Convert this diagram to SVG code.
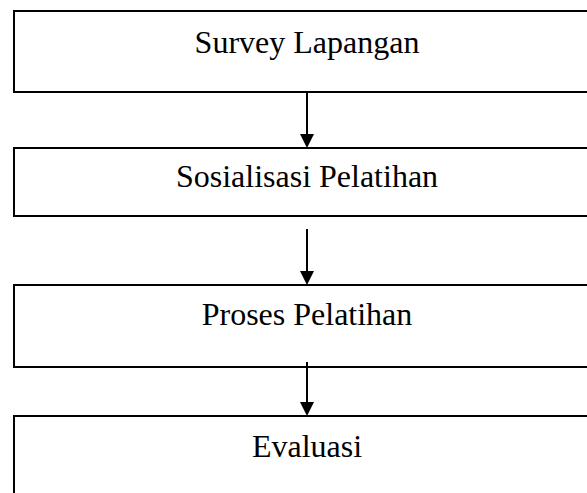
<svg xmlns="http://www.w3.org/2000/svg" width="587" height="493" viewBox="0 0 587 493">
<style>
.box{fill:#fff;stroke:#000;stroke-width:2}
.lbl{font-family:"Liberation Serif","Times New Roman",serif;font-size:32px;fill:#000;text-anchor:middle}
.con{stroke:#000;stroke-width:2;fill:none}
.head{fill:#000}
</style>
<rect width="587" height="493" fill="#fff"/>
<g id="node-survey">
<rect class="box" x="14" y="11" width="586" height="81"/>
<text class="lbl" x="307" y="53">Survey Lapangan</text>
</g>
<g id="node-sosialisasi">
<rect class="box" x="14" y="148" width="586" height="68"/>
<text class="lbl" x="307" y="187">Sosialisasi Pelatihan</text>
</g>
<g id="node-proses">
<rect class="box" x="14" y="285" width="586" height="82"/>
<text class="lbl" x="307" y="325">Proses Pelatihan</text>
</g>
<g id="node-evaluasi">
<rect class="box" x="14" y="416" width="586" height="90"/>
<text class="lbl" x="307" y="457">Evaluasi</text>
</g>
<g id="connectors">
<line class="con" x1="307" y1="93" x2="307" y2="136"/>
<polygon class="head" points="300,134 314,134 307,148"/>
<line class="con" x1="307" y1="229" x2="307" y2="273"/>
<polygon class="head" points="300,271 314,271 307,285"/>
<line class="con" x1="307" y1="362" x2="307" y2="404"/>
<polygon class="head" points="300,402 314,402 307,416"/>
</g>
</svg>
